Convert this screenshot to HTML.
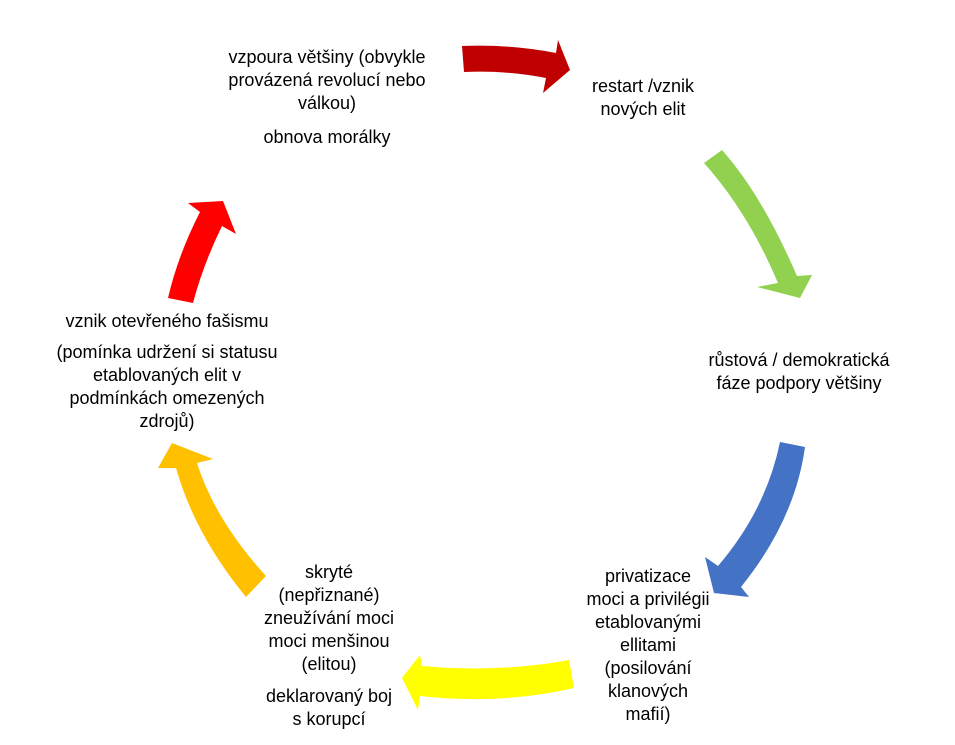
<!DOCTYPE html>
<html><head><meta charset="utf-8"><style>
body{margin:0;width:955px;height:745px;background:#fff;position:relative;overflow:hidden;font-family:"Liberation Sans",sans-serif;font-size:18px;color:#000}
.t{position:absolute;text-align:center;line-height:23px;transform:translateX(-50%);white-space:nowrap}
svg{position:absolute;left:0;top:0}
</style></head><body>
<svg width="955" height="745">
<path fill="#C00000" d="M462,46 Q510,44 556,53 L558,40 L570,70 L543,93 L546,78 Q505,70 464,72 Z"/>
<path fill="#92D050" d="M704,163 L722,150 Q762,195 797,276 L812,275 L800,298 L757,287 L778,283 Q748,212 704,163 Z"/>
<path fill="#4472C4" d="M780,442 Q766,510 718,566 L705,557 L714,593 L749,597 L741,587 Q795,520 805,447 Z"/>
<path fill="#FFFF00" d="M569,660 Q500,673 422,666 L420,655 L402,678 L418,710 L420,696 Q500,705 574,688 Z"/>
<path fill="#FFC000" d="M246,597 Q195,535 176,468 L158,468 L172,443 L213,459 L197,463 Q215,520 266,576 Z"/>
<path fill="#FF0000" d="M168,298 Q178,255 200,212 L188,203 L223,201 L236,234 L222,226 Q203,265 193,303 Z"/>
</svg>
<div class="t" style="left:327px;top:46px">vzpoura většiny (obvykle<br>provázená revolucí nebo<br>válkou)</div>
<div class="t" style="left:327px;top:126px">obnova morálky</div>
<div class="t" style="left:643px;top:75px">restart /vznik<br>nových elit</div>
<div class="t" style="left:799px;top:349px">růstová / demokratická<br>fáze podpory většiny</div>
<div class="t" style="left:648px;top:565px">privatizace<br>moci a privilégii<br>etablovanými<br>ellitami<br>(posilování<br>klanových<br>mafií)</div>
<div class="t" style="left:329px;top:561px">skryté<br>(nepřiznané)<br>zneužívání moci<br>moci menšinou<br>(elitou)</div>
<div class="t" style="left:329px;top:685px">deklarovaný boj<br>s korupcí</div>
<div class="t" style="left:167px;top:310px">vznik otevřeného fašismu</div>
<div class="t" style="left:167px;top:341px">(pomínka udržení si statusu<br>etablovaných elit v<br>podmínkách omezených<br>zdrojů)</div>
</body></html>
